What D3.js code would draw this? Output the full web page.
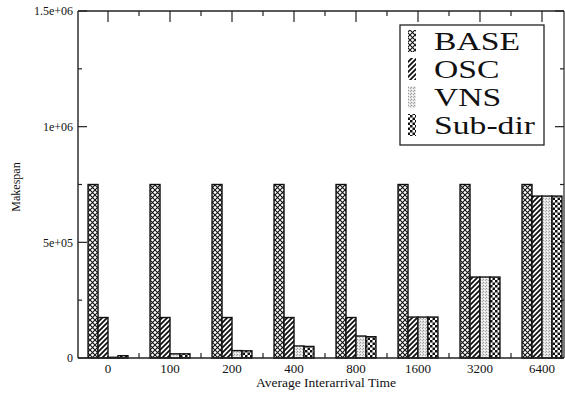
<!DOCTYPE html>
<html>
<head>
<meta charset="utf-8">
<script src="https://cdn.jsdelivr.net/npm/d3@7"></script>
<style>
  html, body { margin: 0; padding: 0; background: #fff; }
  svg { display: block; }
</style>
</head>
<body>
<script>
// Makespan per average interarrival time, for four scheduling methods
const categories = ["0", "100", "200", "400", "800", "1600", "3200", "6400"];
const seriesNames = ["BASE", "OSC", "VNS", "Sub-dir"];
const baseValues   = [750000, 750000, 750000, 750000, 750000, 750000, 750000, 750000];
const oscValues    = [175000, 175000, 175000, 175000, 175000, 177000, 350000, 700000];
const vnsValues    = [3000, 18000, 32000, 52000, 95000, 177000, 350000, 700000];
const subdirValues = [10000, 18000, 31000, 50000, 92000, 177000, 350000, 700000];
const yTickValues  = [0, 500000, 1000000, 1500000];
const yTickLabels  = ["0", "5e+05", "1e+06", "1.5e+06"];

const series = [baseValues, oscValues, vnsValues, subdirValues];

const W = 565, H = 395;
const plotLeft = 78, plotRight = 564, plotTop = 11, plotBottom = 358;
const serif = "'Liberation Serif', 'Times New Roman', Times, serif";

const svg = d3.select("body").append("svg").attr("width", W).attr("height", H)
  .attr("font-family", serif);

// Fill patterns, one per method
const defs = svg.append("defs");
const pBase = defs.append("pattern").attr("id", "pat-base")
  .attr("patternUnits", "userSpaceOnUse").attr("width", 5).attr("height", 5);
pBase.append("rect").attr("width", 5).attr("height", 5).attr("fill", "#fff");
pBase.append("path").attr("d", "M0,0L5,5M5,0L0,5").attr("stroke", "#111").attr("stroke-width", 1.1);

const pOsc = defs.append("pattern").attr("id", "pat-osc")
  .attr("patternUnits", "userSpaceOnUse").attr("width", 5).attr("height", 5);
pOsc.append("rect").attr("width", 5).attr("height", 5).attr("fill", "#fff");
pOsc.append("path").attr("d", "M-1,1L1,-1M0,5L5,0M4,6L6,4").attr("stroke", "#111").attr("stroke-width", 1.8);

const pVns = defs.append("pattern").attr("id", "pat-vns")
  .attr("patternUnits", "userSpaceOnUse").attr("width", 3).attr("height", 3);
pVns.append("rect").attr("width", 3).attr("height", 3).attr("fill", "#e2e2e2");
pVns.append("rect").attr("x", 0).attr("y", 0).attr("width", 1).attr("height", 1).attr("fill", "#999");
pVns.append("rect").attr("x", 2).attr("y", 1).attr("width", 1).attr("height", 1).attr("fill", "#b0b0b0");
pVns.append("rect").attr("x", 1).attr("y", 2).attr("width", 1).attr("height", 1).attr("fill", "#fff");

const pSub = defs.append("pattern").attr("id", "pat-sub")
  .attr("patternUnits", "userSpaceOnUse").attr("width", 5).attr("height", 5);
pSub.append("rect").attr("width", 5).attr("height", 5).attr("fill", "#fff");
pSub.append("rect").attr("x", 0).attr("y", 0).attr("width", 2.5).attr("height", 2.5).attr("fill", "#111");
pSub.append("rect").attr("x", 2.5).attr("y", 2.5).attr("width", 2.5).attr("height", 2.5).attr("fill", "#111");

const fills = ["url(#pat-base)", "url(#pat-osc)", "url(#pat-vns)", "url(#pat-sub)"];

// Scales: categories sit at integer positions on a numeric axis
const x = d3.scaleLinear().domain([-0.484, 7.355]).range([plotLeft, plotRight]);
const y = d3.scaleLinear().domain([0, 1500000]).range([plotBottom, plotTop]);
const step = x(1) - x(0);
const bw = step * 0.161;

const idx = d3.range(categories.length);
const halfIdx = d3.range(categories.length).map(i => i + 0.5).filter(v => x(v) < plotRight);

// Frame lines
const axisStroke = "#222";
svg.append("line").attr("x1", plotLeft).attr("x2", plotRight).attr("y1", plotTop).attr("y2", plotTop)
  .attr("stroke", axisStroke).attr("stroke-width", 1.5);
svg.append("line").attr("x1", plotRight).attr("x2", plotRight).attr("y1", plotTop).attr("y2", plotBottom)
  .attr("stroke", axisStroke).attr("stroke-width", 1.2);

// Top ticks (pointing down)
svg.append("g").selectAll("line").data(idx).join("line")
  .attr("x1", d => x(d)).attr("x2", d => x(d)).attr("y1", plotTop).attr("y2", plotTop + 11)
  .attr("stroke", axisStroke).attr("stroke-width", 1.2);
svg.append("g").selectAll("line").data(halfIdx).join("line")
  .attr("x1", d => x(d)).attr("x2", d => x(d)).attr("y1", plotTop).attr("y2", plotTop + 5)
  .attr("stroke", axisStroke).attr("stroke-width", 1.2);

// Bottom minor ticks (pointing up)
svg.append("g").selectAll("line").data(halfIdx).join("line")
  .attr("x1", d => x(d)).attr("x2", d => x(d)).attr("y1", plotBottom).attr("y2", plotBottom - 5)
  .attr("stroke", axisStroke).attr("stroke-width", 1.2);

// Y ticks on left and right (pointing inward)
const yMinor = [250000, 750000, 1250000];
[[plotLeft, 1], [plotRight, -1]].forEach(([x0, dir]) => {
  svg.append("g").selectAll("line").data(yTickValues).join("line")
    .attr("x1", x0).attr("x2", x0 + dir * 9).attr("y1", d => y(d)).attr("y2", d => y(d))
    .attr("stroke", axisStroke).attr("stroke-width", 1.2);
  svg.append("g").selectAll("line").data(yMinor).join("line")
    .attr("x1", x0).attr("x2", x0 + dir * 4).attr("y1", d => y(d)).attr("y2", d => y(d))
    .attr("stroke", axisStroke).attr("stroke-width", 1.2);
});

// Bars
const groups = svg.append("g").selectAll("g").data(series).join("g")
  .attr("fill", (d, i) => fills[i]);
groups.each(function (vals, si) {
  d3.select(this).selectAll("rect").data(vals).join("rect")
    .attr("x", (v, ci) => x(ci) - 2 * bw + si * bw)
    .attr("width", bw)
    .attr("y", v => y(v))
    .attr("height", v => y(0) - y(v))
    .attr("stroke", "#111")
    .attr("stroke-width", 1.4);
});

// Axis lines on top of bars
svg.append("line").attr("x1", plotLeft).attr("x2", plotRight).attr("y1", plotBottom).attr("y2", plotBottom)
  .attr("stroke", axisStroke).attr("stroke-width", 1.6);
svg.append("line").attr("x1", plotLeft).attr("x2", plotLeft).attr("y1", plotTop).attr("y2", plotBottom)
  .attr("stroke", axisStroke).attr("stroke-width", 1.4);

// Y tick labels
svg.append("g").selectAll("text").data(yTickValues).join("text")
  .attr("x", plotLeft - 5).attr("y", d => y(d)).attr("dy", "0.35em")
  .attr("text-anchor", "end").attr("font-size", 12).attr("fill", "#111")
  .text((d, i) => yTickLabels[i]);

// X tick labels
svg.append("g").selectAll("text").data(categories).join("text")
  .attr("x", (d, i) => x(i)).attr("y", 373)
  .attr("text-anchor", "middle").attr("font-size", 13).attr("fill", "#111")
  .text(d => d);

// Axis titles
svg.append("text").attr("x", (plotLeft + plotRight) / 2 + 5).attr("y", 387)
  .attr("text-anchor", "middle").attr("font-size", 13.5).attr("fill", "#111")
  .text("Average Interarrival Time");
svg.append("text")
  .attr("transform", `translate(20,187) rotate(-90)`)
  .attr("text-anchor", "middle").attr("font-size", 12).attr("fill", "#111")
  .text("Makespan");

// Legend
const lg = svg.append("g");
lg.append("rect").attr("x", 400).attr("y", 25).attr("width", 144).attr("height", 120)
  .attr("fill", "#fff").attr("stroke", "#222").attr("stroke-width", 1.3);
const rowY = d3.scaleLinear().domain([0, 3]).range([50, 134]);
seriesNames.forEach((name, i) => {
  lg.append("rect").attr("x", 408).attr("y", rowY(i) - 20).attr("width", 8).attr("height", 22)
    .attr("fill", fills[i]);
  lg.append("text")
    .attr("transform", `translate(434,${rowY(i)}) scale(1.32,1)`)
    .attr("font-size", 25.5).attr("fill", "#111")
    .text(name);
});
</script>
</body>
</html>
